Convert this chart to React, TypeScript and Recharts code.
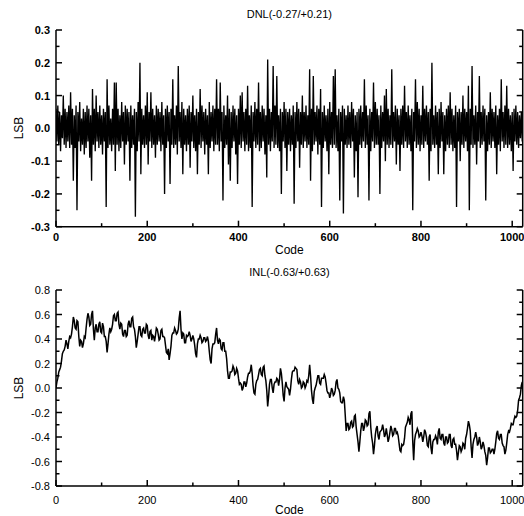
import React from 'react';
import { LineChart, Line, XAxis, YAxis } from 'recharts';

const X_TICKS = [0, 100, 200, 300, 400, 500, 600, 700, 800, 900, 1000];
const DNL_Y_TICKS = [-0.3, -0.25, -0.2, -0.15, -0.1, -0.05, 0, 0.05, 0.1, 0.15, 0.2, 0.25, 0.3];
const INL_Y_TICKS = [-0.8, -0.7, -0.6, -0.5, -0.4, -0.3, -0.2, -0.1, 0, 0.1, 0.2, 0.3, 0.4, 0.5, 0.6, 0.7, 0.8];

// DNL read every 2 codes (0, 2, 4 ... 1022), one row = 32 codes
const DNL = [
  0.06, -0.04, 0.07, -0.05, 0.05, -0.07, 0.04, -0.03, 0.1, -0.05, 0.06, -0.06, 0.05, -0.04, 0.07, -0.06,
  0.11, -0.05, 0.06, -0.16, 0.04, -0.06, 0.07, -0.25, 0.05, -0.04, 0.08, -0.07, 0.03, -0.05, 0.06, -0.08,
  0.05, -0.06, 0.07, -0.04, 0.06, -0.09, 0.04, -0.16, 0.12, -0.05, 0.06, -0.07, 0.1, -0.04, 0.05, -0.06,
  0.07, -0.05, 0.04, -0.08, 0.06, -0.04, 0.05, -0.24, 0.15, -0.06, 0.07, -0.05, 0.03, -0.07, 0.06, -0.05,
  0.14, -0.13, 0.14, -0.05, 0.06, -0.07, 0.04, -0.06, 0.08, -0.04, 0.05, -0.11, 0.07, -0.05, 0.06, -0.04,
  0.05, -0.16, 0.07, -0.06, 0.04, -0.05, 0.06, -0.27, 0.05, -0.07, 0.08, -0.04, 0.2, -0.14, 0.06, -0.05,
  0.04, -0.06, 0.07, -0.05, 0.11, -0.11, 0.05, -0.04, 0.11, -0.06, 0.06, -0.05, 0.04, -0.09, 0.07, -0.05,
  0.06, -0.04, 0.05, -0.07, 0.08, -0.05, 0.04, -0.2, 0.06, -0.06, 0.07, -0.04, 0.05, -0.17, 0.06, -0.05,
  0.15, -0.06, 0.04, -0.05, 0.07, -0.08, 0.19, -0.04, 0.05, -0.06, 0.08, -0.14, 0.06, -0.05, 0.04, -0.07,
  0.06, -0.05, 0.07, -0.12, 0.05, -0.04, 0.1, -0.06, 0.04, -0.07, 0.06, -0.14, 0.05, -0.05, 0.12, -0.06,
  0.07, -0.04, 0.05, -0.08, 0.06, -0.05, 0.04, -0.14, 0.08, -0.06, 0.05, -0.04, 0.07, -0.07, 0.06, -0.05,
  0.15, -0.05, 0.06, -0.07, 0.14, -0.04, 0.05, -0.22, 0.07, -0.06, 0.04, -0.05, 0.1, -0.11, 0.06, -0.16,
  0.05, -0.06, 0.07, -0.04, 0.06, -0.08, 0.04, -0.17, 0.06, -0.05, 0.1, -0.06, 0.11, -0.04, 0.05, -0.07,
  0.06, -0.05, 0.13, -0.07, 0.04, -0.06, 0.07, -0.24, 0.05, -0.04, 0.08, -0.06, 0.06, -0.05, 0.14, -0.07,
  0.05, -0.06, 0.07, -0.04, 0.06, -0.08, 0.04, -0.15, 0.21, -0.05, 0.06, -0.07, 0.05, -0.04, 0.19, -0.06,
  0.07, -0.05, 0.16, -0.06, 0.04, -0.07, 0.06, -0.2, 0.05, -0.04, 0.08, -0.06, 0.06, -0.13, 0.05, -0.05,
  0.06, -0.07, 0.04, -0.05, 0.07, -0.23, 0.05, -0.06, 0.08, -0.04, 0.06, -0.12, 0.05, -0.05, 0.1, -0.06,
  0.05, -0.04, 0.07, -0.06, 0.04, -0.05, 0.18, -0.16, 0.06, -0.07, 0.16, -0.05, 0.05, -0.04, 0.07, -0.08,
  0.06, -0.05, 0.12, -0.24, 0.05, -0.06, 0.07, -0.04, 0.04, -0.07, 0.06, -0.14, 0.08, -0.05, 0.05, -0.06,
  0.16, -0.05, 0.18, -0.06, 0.04, -0.07, 0.06, -0.22, 0.05, -0.04, 0.07, -0.26, 0.06, -0.05, 0.04, -0.06,
  0.07, -0.05, 0.05, -0.06, 0.08, -0.04, 0.06, -0.15, 0.04, -0.07, 0.05, -0.21, 0.06, -0.05, 0.07, -0.06,
  0.05, -0.04, 0.15, -0.06, 0.07, -0.05, 0.04, -0.22, 0.06, -0.07, 0.05, -0.04, 0.14, -0.06, 0.08, -0.05,
  0.06, -0.05, 0.04, -0.2, 0.07, -0.06, 0.05, -0.04, 0.1, -0.1, 0.12, -0.05, 0.06, -0.06, 0.04, -0.05,
  0.18, -0.06, 0.05, -0.04, 0.07, -0.11, 0.06, -0.05, 0.04, -0.13, 0.06, -0.05, 0.07, -0.06, 0.13, -0.04,
  0.05, -0.06, 0.07, -0.05, 0.04, -0.07, 0.06, -0.25, 0.05, -0.04, 0.15, -0.06, 0.08, -0.05, 0.06, -0.07,
  0.04, -0.05, 0.13, -0.06, 0.06, -0.04, 0.07, -0.05, 0.05, -0.16, 0.06, -0.07, 0.2, -0.05, 0.04, -0.06,
  0.07, -0.05, 0.05, -0.14, 0.06, -0.06, 0.08, -0.04, 0.05, -0.14, 0.04, -0.07, 0.06, -0.05, 0.07, -0.06,
  0.11, -0.05, 0.06, -0.07, 0.04, -0.06, 0.07, -0.24, 0.05, -0.04, 0.06, -0.1, 0.05, -0.05, 0.1, -0.06,
  0.06, -0.04, 0.05, -0.07, 0.13, -0.25, 0.06, -0.05, 0.19, -0.06, 0.04, -0.05, 0.07, -0.11, 0.05, -0.04,
  0.16, -0.06, 0.05, -0.05, 0.07, -0.04, 0.06, -0.22, 0.04, -0.07, 0.05, -0.05, 0.11, -0.06, 0.06, -0.04,
  0.05, -0.06, 0.07, -0.14, 0.04, -0.05, 0.06, -0.07, 0.15, -0.04, 0.05, -0.06, 0.07, -0.05, 0.13, -0.06,
  0.06, -0.05, 0.04, -0.07, 0.05, -0.13, 0.06, -0.04, 0.07, -0.05, 0.05, -0.06, 0.04, -0.03, 0.05, -0.04,
];
const DNL_STEP = 2;

// INL read at codes 0, 4, 8 ... (EVEN) and 2, 6, 10 ... (ODD)
const INL_STEP = 4;
const INL_EVEN = [
  0.0, 0.08, 0.15, 0.22, 0.3, 0.34, 0.36, 0.38, 0.41, 0.5, 0.55, 0.48, 0.54, 0.34, 0.38, 0.36,
  0.41, 0.56, 0.58, 0.52, 0.63, 0.39, 0.52, 0.46, 0.54, 0.45, 0.5, 0.42, 0.29, 0.44, 0.46, 0.52,
  0.6, 0.55, 0.62, 0.48, 0.52, 0.42, 0.47, 0.43, 0.55, 0.5, 0.58, 0.48, 0.33, 0.44, 0.5, 0.42,
  0.49, 0.45, 0.51, 0.4, 0.47, 0.43, 0.38, 0.49, 0.44, 0.4, 0.48, 0.42, 0.35, 0.28, 0.23, 0.34,
  0.45, 0.49, 0.44, 0.48, 0.63, 0.4, 0.44, 0.37, 0.42, 0.46, 0.38, 0.43, 0.35, 0.25, 0.4, 0.43,
  0.37, 0.41, 0.38, 0.42, 0.3, 0.2, 0.36, 0.37, 0.49, 0.36, 0.39, 0.31, 0.37, 0.3, 0.14, 0.08,
  0.13, 0.18, 0.11, 0.16, 0.08, 0.04, -0.02, 0.05, 0.01, 0.09, 0.12, 0.19, 0.02, -0.05, 0.06, 0.11,
  0.16, 0.1, 0.18, 0.06, -0.15, 0.03, 0.07, -0.04, 0.05, 0.08, 0.02, 0.16, 0.04, -0.11, 0.05, 0.0,
  -0.06, 0.07, 0.14, 0.17, 0.15, 0.03, 0.05, 0.01, 0.04, 0.02, 0.05, 0.19, -0.02, -0.13, 0.0, 0.06,
  0.1, 0.03, 0.08, 0.11, 0.04, -0.04, -0.08, 0.0, -0.06, -0.02, 0.07, -0.01, -0.11, -0.12, -0.1, -0.35,
  -0.29, -0.33, -0.27, -0.31, -0.22, -0.38, -0.52, -0.35, -0.29, -0.32, -0.27, -0.3, -0.19, -0.4, -0.54, -0.38,
  -0.31, -0.42, -0.35, -0.3, -0.4, -0.33, -0.44, -0.36, -0.34, -0.38, -0.33, -0.36, -0.45, -0.52, -0.47, -0.41,
  -0.3, -0.24, -0.3, -0.19, -0.59, -0.38, -0.33, -0.4, -0.36, -0.44, -0.34, -0.4, -0.48, -0.38, -0.54, -0.42,
  -0.39, -0.46, -0.33, -0.42, -0.38, -0.47, -0.4, -0.44, -0.38, -0.49, -0.41, -0.46, -0.59, -0.47, -0.52, -0.45,
  -0.5, -0.38, -0.27, -0.35, -0.57, -0.42, -0.36, -0.47, -0.4, -0.5, -0.44, -0.52, -0.63, -0.49, -0.53, -0.5,
  -0.54, -0.44, -0.35, -0.42, -0.38, -0.47, -0.54, -0.45, -0.35, -0.33, -0.3, -0.26, -0.24, -0.18, -0.08, 0.02,
];
const INL_ODD = [
  0.05, 0.13, 0.17, 0.28, 0.31, 0.39, 0.32, 0.42, 0.44, 0.58, 0.49, 0.55, 0.42, 0.39, 0.33, 0.42,
  0.49, 0.61, 0.51, 0.6, 0.48, 0.49, 0.46, 0.52, 0.46, 0.53, 0.42, 0.38, 0.36, 0.49, 0.48, 0.59,
  0.55, 0.61, 0.52, 0.53, 0.44, 0.47, 0.42, 0.52, 0.5, 0.57, 0.5, 0.42, 0.38, 0.5, 0.43, 0.48,
  0.45, 0.52, 0.43, 0.46, 0.39, 0.42, 0.43, 0.48, 0.39, 0.47, 0.42, 0.41, 0.29, 0.32, 0.28, 0.43,
  0.45, 0.47, 0.45, 0.57, 0.48, 0.45, 0.37, 0.43, 0.43, 0.43, 0.4, 0.4, 0.28, 0.36, 0.4, 0.41,
  0.38, 0.41, 0.39, 0.38, 0.23, 0.32, 0.36, 0.44, 0.39, 0.4, 0.32, 0.37, 0.3, 0.24, 0.08, 0.13,
  0.14, 0.16, 0.12, 0.14, 0.03, 0.03, 0.0, 0.05, 0.04, 0.12, 0.14, 0.12, -0.04, 0.03, 0.07, 0.15,
  0.11, 0.17, 0.1, -0.02, -0.07, 0.07, 0.0, 0.03, 0.05, 0.07, 0.07, 0.12, -0.06, 0.0, 0.01, -0.01,
  -0.01, 0.13, 0.14, 0.16, 0.06, 0.07, 0.0, 0.05, 0.0, 0.06, 0.1, 0.1, -0.09, -0.03, 0.02, 0.1,
  0.04, 0.08, 0.08, 0.09, -0.02, -0.04, -0.05, -0.02, -0.05, 0.05, 0.0, -0.04, -0.12, -0.07, -0.22, -0.29,
  -0.34, -0.28, -0.32, -0.23, -0.32, -0.44, -0.44, -0.29, -0.35, -0.26, -0.31, -0.21, -0.32, -0.45, -0.47, -0.33,
  -0.39, -0.36, -0.34, -0.34, -0.38, -0.38, -0.41, -0.31, -0.39, -0.33, -0.37, -0.39, -0.51, -0.46, -0.46, -0.32,
  -0.28, -0.26, -0.21, -0.44, -0.43, -0.36, -0.35, -0.39, -0.39, -0.4, -0.36, -0.47, -0.4, -0.49, -0.44, -0.42,
  -0.41, -0.36, -0.41, -0.38, -0.45, -0.4, -0.45, -0.38, -0.47, -0.42, -0.46, -0.51, -0.53, -0.48, -0.5, -0.46,
  -0.41, -0.33, -0.3, -0.48, -0.46, -0.4, -0.4, -0.45, -0.44, -0.48, -0.47, -0.55, -0.57, -0.49, -0.52, -0.5,
  -0.5, -0.37, -0.41, -0.38, -0.45, -0.48, -0.51, -0.38, -0.36, -0.29, -0.3, -0.23, -0.23, -0.1, -0.05, 0.05,
];

const FONT = '"Liberation Sans", Arial, Helvetica, sans-serif';
const W = 524;
const PLOT_LEFT = 56;
const PLOT_RIGHT = 522.7;

type Row = { code: number; v: number };

const dnlRows: Row[] = DNL.map((v, i) => ({ code: i * DNL_STEP, v }));

const inlRows: Row[] = [];
INL_EVEN.forEach((v, i) => {
  inlRows.push({ code: i * INL_STEP, v });
  inlRows.push({ code: i * INL_STEP + INL_STEP / 2, v: INL_ODD[i] });
});

const isMult = (v: number, m: number) => Math.abs(Math.round(v * 100) % Math.round(m * 100)) === 0;

interface PanelProps {
  top: number;
  height: number;
  plotTop: number;
  plotBottom: number;
  rows: Row[];
  yDomain: [number, number];
  yTicks: number[];
  yMajor: number;
  title: string;
  bold: boolean;
  xLabelDy: number;
  codeY: number;
  lsbY: number;
  lineWidth: number;
}

const Panel = ({ top, height, plotTop, plotBottom, rows, yDomain, yTicks, yMajor, title, bold, xLabelDy, codeY, lsbY, lineWidth }: PanelProps) => {
  const weight = bold ? 'bold' : 'normal';
  const axisLine = { stroke: '#000', strokeWidth: 1.5 };

  const bottomTick = (p: any) => {
    const major = isMult(p.payload.value, 200);
    return (
      <g>
        <line x1={p.x} y1={p.y} x2={p.x} y2={p.y - (major ? 6 : 3.5)} stroke="#000" strokeWidth={1.5} />
        {major && (
          <text x={p.x} y={p.y + xLabelDy} textAnchor="middle" dominantBaseline="central"
            fontFamily={FONT} fontSize={11} fontWeight={weight} fill="#000">
            {p.payload.value}
          </text>
        )}
      </g>
    );
  };
  const topTick = (p: any) => {
    const major = isMult(p.payload.value, 200);
    return <line x1={p.x} y1={p.y} x2={p.x} y2={p.y + (major ? 6 : 3.5)} stroke="#000" strokeWidth={1.5} />;
  };
  const leftTick = (p: any) => {
    const major = isMult(p.payload.value, yMajor);
    return (
      <g>
        <line x1={p.x} y1={p.y} x2={p.x + (major ? 6 : 3.5)} y2={p.y} stroke="#000" strokeWidth={1.5} />
        {major && (
          <text x={p.x - 6} y={p.y} textAnchor="end" dominantBaseline="central"
            fontFamily={FONT} fontSize={11} fontWeight={weight} fill="#000">
            {p.payload.value.toFixed(1)}
          </text>
        )}
      </g>
    );
  };
  const rightTick = (p: any) => {
    const major = isMult(p.payload.value, yMajor);
    return <line x1={p.x} y1={p.y} x2={p.x - (major ? 6 : 3.5)} y2={p.y} stroke="#000" strokeWidth={1.5} />;
  };

  return (
    <div style={{ position: 'absolute', left: 0, top, width: W, height }}>
      <LineChart width={W} height={height} data={rows} margin={{ top: plotTop, right: 0, left: 0, bottom: 0 }}>
        <XAxis xAxisId="t" orientation="top" dataKey="code" type="number" domain={[0, 1023]} allowDataOverflow
          ticks={X_TICKS} interval={0} height={0} tickSize={0} tickMargin={0} tickLine={false}
          axisLine={axisLine} tick={topTick} />
        <XAxis xAxisId="b" dataKey="code" type="number" domain={[0, 1023]} allowDataOverflow
          ticks={X_TICKS} interval={0} height={height - plotBottom} tickSize={0} tickMargin={0} tickLine={false}
          axisLine={axisLine} tick={bottomTick} />
        <YAxis yAxisId="l" type="number" domain={yDomain} allowDataOverflow ticks={yTicks} interval={0}
          width={PLOT_LEFT} tickSize={0} tickMargin={0} tickLine={false} axisLine={axisLine} tick={leftTick} />
        <YAxis yAxisId="r" orientation="right" type="number" domain={yDomain} allowDataOverflow ticks={yTicks}
          interval={0} width={W - PLOT_RIGHT} tickSize={0} tickMargin={0} tickLine={false} axisLine={axisLine}
          tick={rightTick} />
        <Line xAxisId="b" yAxisId="l" dataKey="v" type="linear" stroke="#000" strokeWidth={lineWidth}
          dot={false} activeDot={false} isAnimationActive={false} />
      </LineChart>
      <div style={{ position: 'absolute', left: (PLOT_LEFT + PLOT_RIGHT) / 2, top: 14, transform: 'translate(-50%, -50%)',
        fontFamily: FONT, fontSize: 11, whiteSpace: 'nowrap' }}>{title}</div>
      <div style={{ position: 'absolute', left: (PLOT_LEFT + PLOT_RIGHT) / 2, top: codeY, transform: 'translate(-50%, -50%)',
        fontFamily: FONT, fontSize: 12, whiteSpace: 'nowrap' }}>Code</div>
      <div style={{ position: 'absolute', left: 19, top: lsbY, transform: 'translate(-50%, -50%) rotate(-90deg)',
        fontFamily: FONT, fontSize: 12, whiteSpace: 'nowrap' }}>LSB</div>
    </div>
  );
};

export default function App() {
  return (
    <div style={{ position: 'absolute', left: 0, top: 0, width: W, height: 516, overflow: 'hidden', background: '#fff' }}>
      <Panel top={0} height={260} plotTop={30} plotBottom={226.7} rows={dnlRows} yDomain={[-0.3, 0.3]}
        yTicks={DNL_Y_TICKS} yMajor={0.1} title="DNL(-0.27/+0.21)" bold xLabelDy={10.5} codeY={250} lsbY={128}
        lineWidth={1.35} />
      <Panel top={258} height={258} plotTop={32} plotBottom={228} rows={inlRows} yDomain={[-0.8, 0.8]}
        yTicks={INL_Y_TICKS} yMajor={0.2} title="INL(-0.63/+0.63)" bold={false} xLabelDy={14} codeY={252} lsbY={130}
        lineWidth={1.5} />
    </div>
  );
}
